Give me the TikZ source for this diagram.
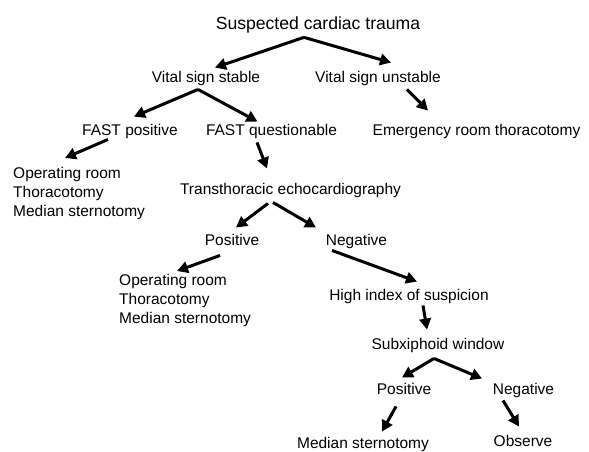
\documentclass[tikz,border=0pt]{standalone}
\usepackage{fontspec}
\setmainfont{Liberation Sans}
\usetikzlibrary{arrows.meta}
\begin{document}
\begin{tikzpicture}[x=1pt,y=-1pt,line join=miter,
  steptext/.style={inner sep=3.5pt,text height=11.2pt,text depth=3.3pt,font=\fontsize{15.5}{19}\selectfont},
  toptext/.style={inner sep=4pt,text height=12.6pt,text depth=3.7pt,font=\fontsize{17.6}{21}\selectfont},
  listtext/.style={inner sep=0pt,align=left,anchor=north west,font=\fontsize{15.5}{19}\selectfont},
  arr/.style={line width=3pt,-{Triangle[length=11pt,width=11.5pt]}}]
\useasboundingbox (0,0) rectangle (589,451);

\node[toptext] (title) at (318,25) {Suspected cardiac trauma};
\node[steptext] (stable) at (206,78.5) {Vital sign stable};
\node[steptext] (unstable) at (378,78.5) {Vital sign unstable};
\node[steptext] (fastpos) at (130,131.5) {FAST positive};
\node[steptext] (fastq) at (271.5,131.5) {FAST questionable};
\node[steptext] (ert) at (476.5,131.5) {Emergency room thoracotomy};
\node[listtext] (ora) at (13,167) {Operating room\\Thoracotomy\\Median sternotomy};
\node[steptext] (tte) at (290.5,190.5) {Transthoracic echocardiography};
\node[steptext] (posa) at (232,241.5) {Positive};
\node[steptext] (nega) at (356.5,241.5) {Negative};
\node[listtext] (orb) at (119,274) {Operating room\\Thoracotomy\\Median sternotomy};
\node[steptext] (his) at (409,296.5) {High index of suspicion};
\node[steptext] (sxw) at (438,345.5) {Subxiphoid window};
\node[steptext] (posb) at (404,390.5) {Positive};
\node[steptext] (negb) at (523.5,390.5) {Negative};
\node[steptext] (mst) at (363,444.5) {Median sternotomy};
\node[steptext] (obs) at (523,442.5) {Observe};

\draw[arr] ([xshift=-14pt]title.south) -- ([xshift=9pt]stable.north);
\draw[arr] ([xshift=-14pt]title.south) -- ([xshift=13pt,yshift=5pt]unstable.north);
\draw[arr] ([xshift=-8pt]stable.south) -- ([xshift=4pt,yshift=4pt]fastpos.north);
\draw[arr] ([xshift=-8pt]stable.south) -- ([xshift=-14pt,yshift=-1pt]fastq.north);
\draw[arr] ([xshift=29pt]unstable.south) -- ([xshift=-48.5pt,yshift=10pt]ert.north);
\draw[arr] ([xshift=-22pt,yshift=3pt]fastpos.south) -- ([xshift=52pt,yshift=9pt]ora.north west);
\draw[arr] ([xshift=-14.5pt]fastq.south) -- ([xshift=-23.5pt,yshift=11pt]tte.north);
\draw[arr] ([xshift=-22.5pt,yshift=-2pt]tte.south) -- ([xshift=4pt,yshift=3pt]posa.north);
\draw[arr] ([xshift=-17.5pt,yshift=-1pt]tte.south) -- ([xshift=-40.5pt,yshift=3pt]nega.north);
\draw[arr] ([xshift=-12pt,yshift=-3pt]posa.south) -- ([xshift=58pt,yshift=3pt]orb.north west);
\draw[arr] ([xshift=-24.5pt,yshift=2pt]nega.south) -- ([xshift=8pt,yshift=4pt]his.north);
\draw[arr] ([xshift=14pt,yshift=2pt]his.south) -- ([xshift=-11pt,yshift=5pt]sxw.north);
\draw[arr] ([xshift=-4pt,yshift=-2pt]sxw.south) -- ([xshift=-2pt,yshift=2pt]posb.north);
\draw[arr] ([xshift=-4pt,yshift=-2pt]sxw.south) -- ([xshift=-41.5pt,yshift=1pt]negb.north);
\draw[arr] ([xshift=-8pt,yshift=-5pt]posb.south) -- ([xshift=19pt,yshift=2pt]mst.north);
\draw[arr] ([xshift=-20.5pt,yshift=1pt]negb.south) -- ([xshift=-4pt,yshift=5pt]obs.north);
\end{tikzpicture}
\end{document}
